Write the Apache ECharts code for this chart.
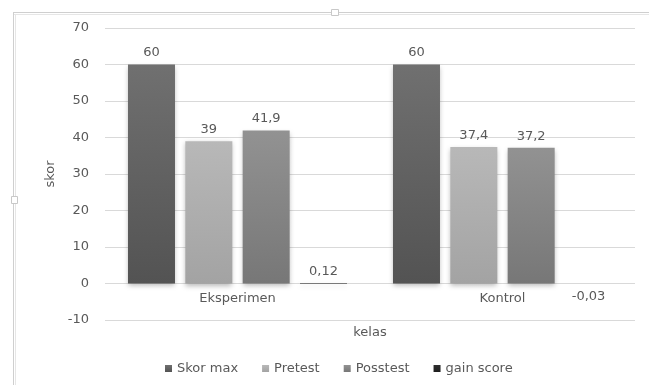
<!DOCTYPE html>
<html>
<head>
<meta charset="utf-8">
<script src="https://cdn.jsdelivr.net/npm/echarts@6/dist/echarts.min.js"></script>
<style>
  html, body { margin: 0; padding: 0; background: #fff; }
  #chart { width: 649px; height: 385px; }
</style>
</head>
<body>
<div id="chart"></div>
<script>
// Scores per class group
const categories = ['Eksperimen', 'Kontrol'];
const seriesNames = ['Skor max', 'Pretest', 'Posstest', 'gain score'];
const skorMax = [60, 60];
const pretest = [39, 37.4];
const posstest = [41.9, 37.2];
const gainScore = [0.12, -0.03];
const yTicks = { min: -10, max: 70, interval: 10 };

const textColor = '#595959';
const fontFamily = '"DejaVu Sans", sans-serif';
const fontSize = 13;

function fmt(v) {
  return String(v).replace('.', ',');
}

function grad(top, bottom) {
  return new echarts.graphic.LinearGradient(0, 0, 0, 1, [
    { offset: 0, color: top },
    { offset: 1, color: bottom }
  ]);
}

const fills = [
  grad('#707070', '#535353'),
  grad('#b8b8b8', '#a3a3a3'),
  grad('#929292', '#777777'),
  grad('#2e2e2e', '#1e1e1e')
];
const legendColors = ['#5e5e5e', '#ababab', '#838383', '#262626'];
const values = [skorMax, pretest, posstest, gainScore];

const series = seriesNames.map((name, i) => ({
  name: name,
  type: 'bar',
  barWidth: 47,
  barGap: '22%',
  color: legendColors[i],
  itemStyle: {
    color: fills[i],
    shadowColor: 'rgba(0,0,0,0.28)',
    shadowBlur: 5,
    shadowOffsetY: 2
  },
  label: {
    show: true,
    position: 'top',
    distance: 5,
    color: textColor,
    fontFamily: fontFamily,
    fontSize: fontSize,
    formatter: p => fmt(p.value)
  },
  data: values[i].map(v => v < 0
    ? { value: v, label: { position: 'bottom', distance: 7 } }
    : v)
}));

const chart = echarts.init(document.getElementById('chart'), null, { renderer: 'canvas' });
chart.setOption({
  animation: false,
  backgroundColor: '#ffffff',
  textStyle: { fontFamily: fontFamily, color: textColor },
  grid: { left: 105, right: 14, top: 28, bottom: 65, containLabel: false },
  legend: {
    data: seriesNames,
    bottom: 5,
    left: 160,
    itemWidth: 7,
    itemHeight: 7,
    itemGap: 24,
    icon: 'rect',
    textStyle: { color: textColor, fontSize: fontSize, fontFamily: fontFamily }
  },
  xAxis: {
    type: 'category',
    data: categories,
    name: 'kelas',
    nameLocation: 'middle',
    nameGap: -3,
    nameTextStyle: { color: textColor, fontSize: fontSize },
    // category names sit just under the zero line, above the -10 gridline
    axisLine: { show: false, onZero: false },
    axisTick: { show: false },
    axisLabel: { color: textColor, fontSize: fontSize, margin: -28 }
  },
  yAxis: {
    type: 'value',
    min: yTicks.min,
    max: yTicks.max,
    interval: yTicks.interval,
    name: 'skor',
    nameLocation: 'middle',
    nameGap: 44,
    nameRotate: 90,
    nameTextStyle: { color: textColor, fontSize: fontSize },
    axisLine: { show: false },
    axisTick: { show: false },
    axisLabel: { color: textColor, fontSize: fontSize, margin: 16 },
    splitLine: { lineStyle: { color: '#d9d9d9', width: 1 } }
  },
  graphic: [
    // chart area frame
    { type: 'line', shape: { x1: 14, y1: 12.5, x2: 649, y2: 12.5 }, style: { stroke: '#cfcfcf', lineWidth: 1 } },
    { type: 'line', shape: { x1: 14, y1: 14.5, x2: 649, y2: 14.5 }, style: { stroke: '#e6e6e6', lineWidth: 1 } },
    { type: 'line', shape: { x1: 13.5, y1: 12, x2: 13.5, y2: 385 }, style: { stroke: '#cfcfcf', lineWidth: 1 } },
    { type: 'line', shape: { x1: 15.5, y1: 14, x2: 15.5, y2: 385 }, style: { stroke: '#e6e6e6', lineWidth: 1 } },
    { type: 'rect', shape: { x: 331.5, y: 9.5, width: 7, height: 6 }, style: { fill: '#fff', stroke: '#c8c8c8', lineWidth: 1 } },
    { type: 'rect', shape: { x: 11.5, y: 196.5, width: 6, height: 7 }, style: { fill: '#fff', stroke: '#c8c8c8', lineWidth: 1 } }
  ],
  series: series
});
</script>
</body>
</html>
